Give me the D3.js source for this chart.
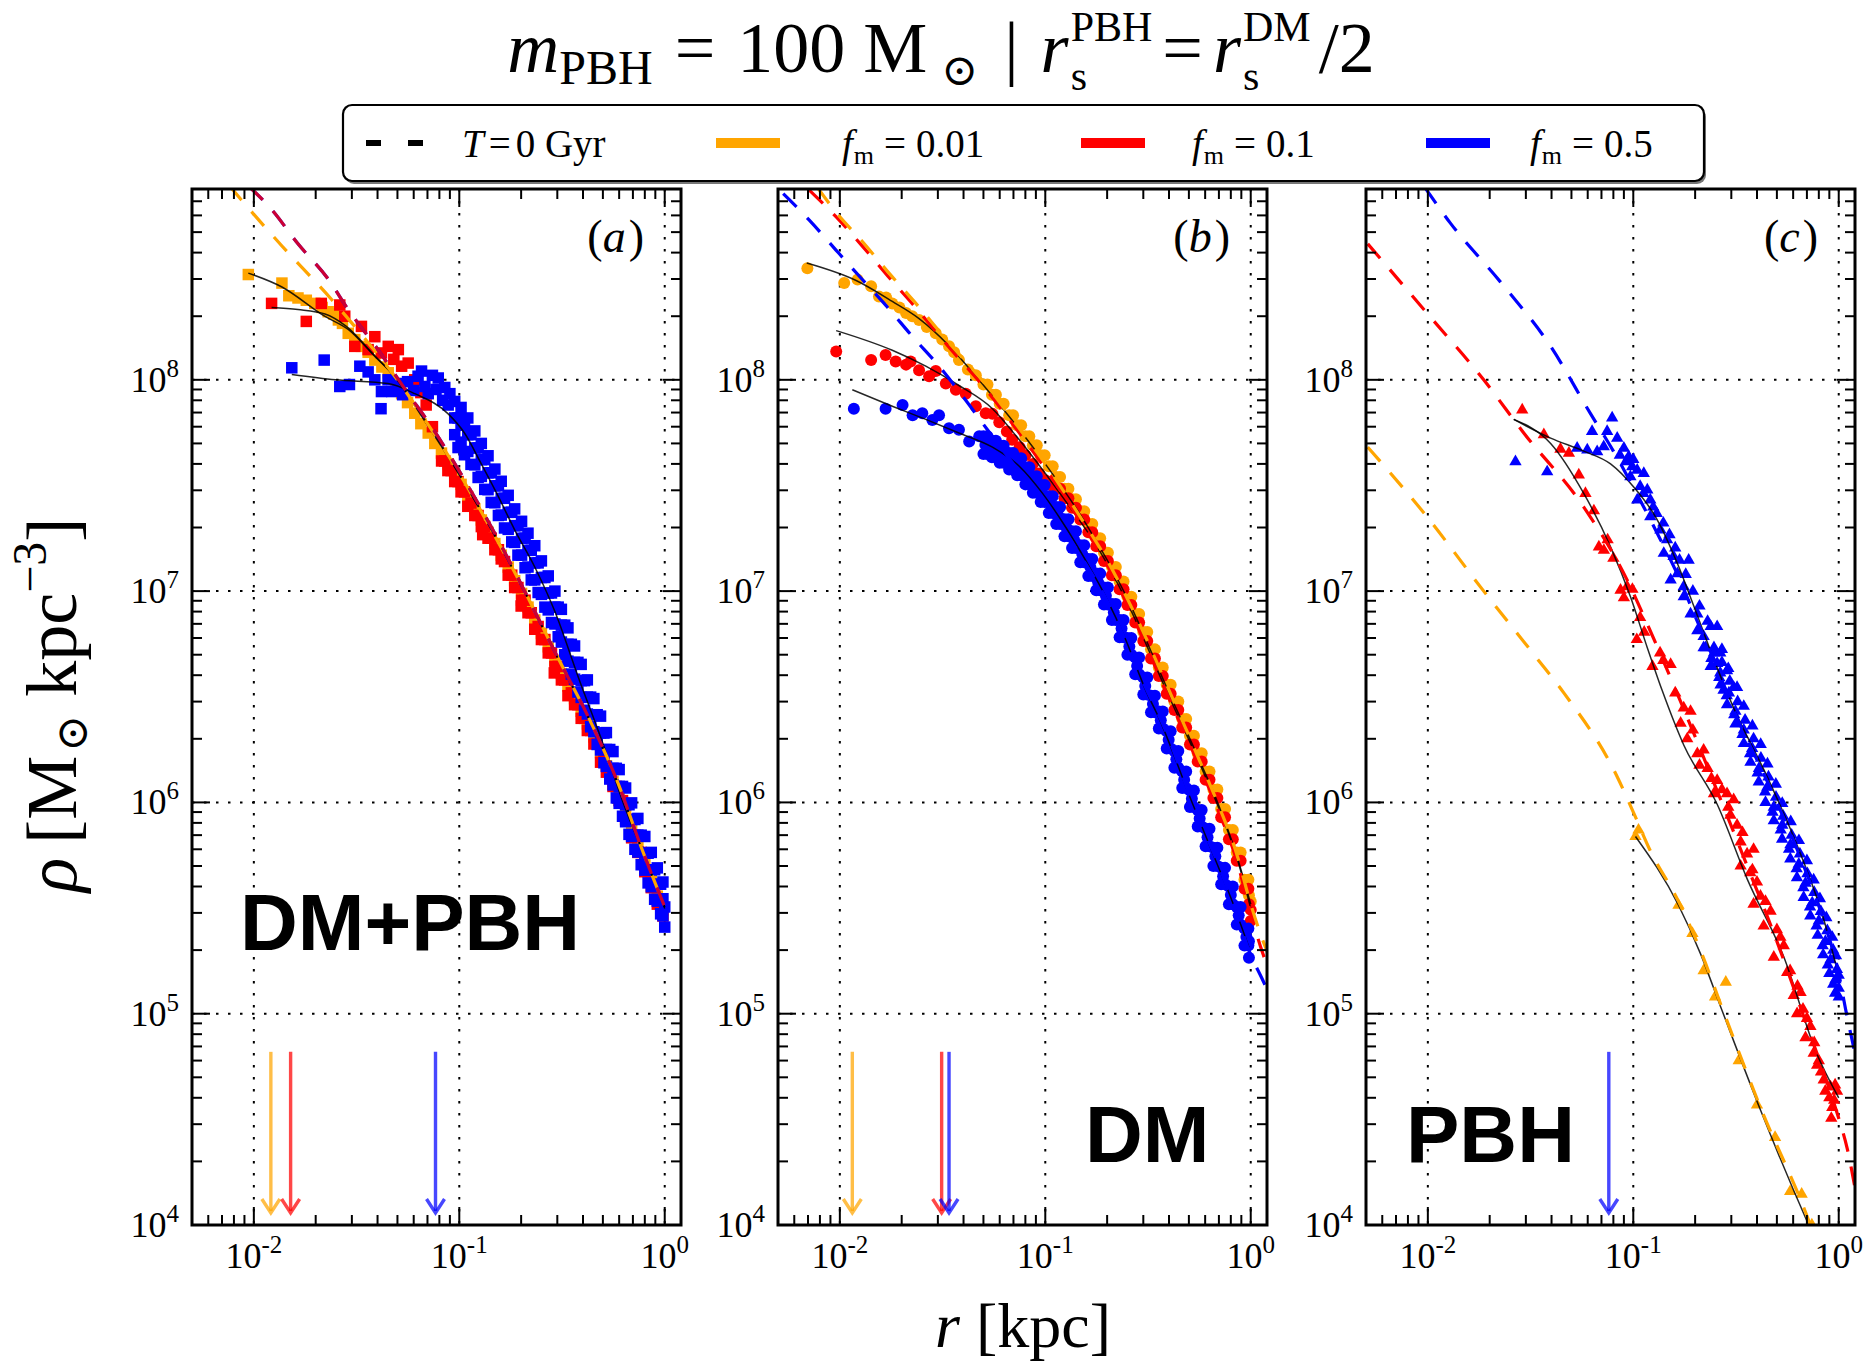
<!DOCTYPE html>
<html>
<head>
<meta charset="utf-8">
<script src="https://cdn.jsdelivr.net/npm/d3@7"></script>
<style>
  html, body { margin: 0; padding: 0; background: #fff; }
  svg { display: block; }
</style>
</head>
<body>
<svg id="fig" width="1872" height="1367"></svg>
<script>
// ---------------- axis ticks ----------------
const xTickValues = [0.01, 0.1, 1];
const xTickExponents = ["-2", "-1", "0"];
const yTickValues = [1e4, 1e5, 1e6, 1e7, 1e8];
const yTickExponents = ["4", "5", "6", "7", "8"];

// legend: mass fractions of the three runs
const fmLabels = ["0.01", "0.1", "0.5"];
const panelTags = ["a", "b", "c"];
const panelNames = ["DM+PBH", "DM", "PBH"];

// arrow extent (density) and arrow radii [kpc] per panel: orange, red, blue
const arrowRhoTop = 6.6e4;
const arrowRhoTip = 1.14e4;
const aArrowRadii = [0.0121, 0.0151, 0.0766];
const bArrowRadii = [0.0115, 0.0313, 0.034];
const cArrowRadii = [null, null, 0.076];

// ---------------- panel (a): DM+PBH, squares ----------------
const aSquaresOrange = [[0.0094,3.15e8],[0.0137,2.87e8],[0.0148,2.5e8],[0.0164,2.44e8],[0.018,2.38e8],[0.0198,2.3e8],[0.0215,2.2e8],[0.023,2.1e8],[0.0245,2.05e8],[0.0258,1.92e8],[0.027,1.85e8],[0.0288,1.66e8],[0.031,1.55e8],[0.0334,1.44e8],[0.036,1.35e8],[0.0388,1.24e8],[0.042,1.15e8],[0.0451,1.08e8],[0.049,9.6e7],[0.0524,8.6e7],[0.056,7.8e7],[0.0607,6.95e7],[0.065,6.2e7],[0.0706,5.6e7],[0.076,5.0e7],[0.0819,4.5e7],[0.088,4.0e7],[0.095,3.6e7],[0.102,3.2e7],[0.11,2.8e7],[0.119,2.45e7],[0.128,2.17e7],[0.138,1.9e7],[0.149,1.68e7],[0.16,1.48e7],[0.173,1.3e7],[0.186,1.12e7],[0.201,9.75e6],[0.216,8.4e6],[0.233,7.3e6],[0.251,6.3e6],[0.271,5.45e6],[0.292,4.7e6],[0.314,4.07e6],[0.338,3.55e6],[0.364,3.1e6],[0.392,2.7e6],[0.42,2.35e6],[0.452,2.04e6],[0.487,1.72e6],[0.52,1.49e6],[0.56,1.26e6],[0.6,1.09e6],[0.645,8.9e5],[0.69,7.4e5],[0.74,6.2e5],[0.8,5.1e5],[0.86,4.3e5],[0.92,3.6e5],[0.98,3.1e5]];
const aSquaresRed = [[0.0122,2.3e8],[0.018,1.89e8],[0.0213,2.3e8],[0.0262,2.26e8],[0.0277,2.0e8],[0.031,1.44e8],[0.0334,1.79e8],[0.036,1.39e8],[0.0388,1.6e8],[0.0418,1.34e8],[0.0451,1.44e8],[0.048,1.25e8],[0.0505,1.39e8],[0.0524,1.16e8],[0.0564,1.2e8],[0.0607,1.0e8],[0.065,8.7e7],[0.069,7.6e7],[0.074,6.0e7],
  [0.082,4.13e7],[0.088,3.72e7],[0.095,3.3e7],[0.102,2.95e7],[0.11,2.52e7],[0.119,2.28e7],[0.128,2.02e7],[0.13,1.85e7],[0.138,1.78e7],[0.149,1.57e7],[0.16,1.42e7],[0.173,1.19e7],[0.186,1.04e7],[0.2,8.5e6],[0.201,9.06e6],[0.216,7.9e6],[0.233,6.6e6],[0.251,5.9e6],[0.271,5.1e6],[0.29,4.1e6],[0.292,4.4e6],[0.314,3.8e6],[0.338,3.2e6],[0.364,2.9e6],[0.392,2.5e6],[0.42,2.19e6],[0.452,1.89e6],[0.487,1.55e6],[0.52,1.39e6],[0.56,1.19e6],[0.6,1.02e6],[0.645,8.3e5],[0.69,6.8e5],[0.74,5.8e5],[0.8,4.7e5],[0.86,3.95e5],[0.92,3.3e5],[0.98,2.9e5],
  [0.085,4.13e7],[0.0913,3.72e7],[0.0986,3.3e7],[0.106,2.95e7],[0.114,2.61e7],[0.1235,2.28e7],[0.133,2.02e7],[0.143,1.78e7],[0.155,1.57e7],[0.166,1.38e7],[0.18,1.19e7],[0.193,1.04e7],[0.209,9.06e6],[0.224,7.9e6],[0.242,6.8e6],[0.261,5.9e6],[0.281,5.1e6],[0.303,4.4e6],[0.326,3.8e6],[0.351,3.3e6],[0.378,2.9e6],[0.407,2.5e6],[0.436,2.19e6],[0.469,1.89e6],[0.506,1.6e6],[0.54,1.39e6],[0.581,1.19e6],[0.623,1.02e6],[0.67,8.3e5],[0.716,7.0e5],[0.768,5.8e5],[0.83,4.7e5],[0.893,3.95e5],[0.955,3.3e5]];
const aSquaresBlue = [[0.0153,1.14e8],[0.022,1.24e8],[0.0262,9.3e7],[0.0292,9.5e7],[0.0328,1.16e8],[0.036,1.09e8],[0.0388,1.0e8],[0.0418,8.8e7],[0.0416,7.3e7],[0.045,1.0e8],[0.047,8.8e7],[0.05,9.6e7],[0.053,8.5e7],[0.056,9.8e7],[0.06,8.9e7],[0.063,1.04e8],[0.0655,1.1e8],[0.068,9.3e7],[0.0706,8.6e7],[0.074,1.05e8],[0.077,9.0e7],[0.079,1.02e8],[0.083,8.0e7],[0.085,9.2e7],[0.0883,7.6e7],[0.09,8.6e7],
  [0.095,6.6e7],[0.102,6.1e7],[0.11,5.5e7],[0.119,4.76e7],[0.128,4.19e7],[0.138,3.63e7],[0.149,3.15e7],[0.16,2.75e7],[0.173,2.36e7],[0.186,2.04e7],[0.201,1.78e7],[0.216,1.56e7],[0.233,1.36e7],[0.251,1.16e7],[0.271,9.8e6],[0.292,8.4e6],[0.314,6.9e6],[0.338,5.6e6],[0.364,4.6e6],[0.392,3.77e6],[0.42,3.15e6],[0.452,2.6e6],[0.487,2.13e6],[0.52,1.78e6],[0.56,1.45e6],[0.6,1.19e6],[0.645,9.75e5],[0.69,8.3e5],[0.74,7.0e5],[0.8,5.75e5],[0.86,4.8e5],[0.92,4.1e5],[0.98,3.5e5],
  [0.095,7.9e7],[0.102,7.4e7],[0.11,6.6e7],[0.119,5.73e7],[0.128,5.0e7],[0.138,4.37e7],[0.149,3.78e7],[0.16,3.31e7],[0.173,2.84e7],[0.186,2.45e7],[0.201,2.14e7],[0.216,1.88e7],[0.233,1.64e7],[0.251,1.39e7],[0.271,1.18e7],[0.292,1.0e7],[0.314,8.2e6],[0.338,6.7e6],[0.364,5.5e6],[0.392,4.5e6],[0.42,3.8e6],[0.452,3.1e6],[0.487,2.56e6],[0.52,2.14e6],[0.56,1.74e6],[0.6,1.43e6],[0.645,1.17e6],[0.69,9.95e5],[0.74,8.4e5],[0.8,6.9e5],[0.86,5.8e5],[0.92,4.9e5],[0.98,4.2e5],
  [0.0986,6.6e7],[0.106,6.1e7],[0.114,5.5e7],[0.1235,4.76e7],[0.133,4.19e7],[0.143,3.63e7],[0.155,3.15e7],[0.166,2.75e7],[0.18,2.36e7],[0.193,2.04e7],[0.209,1.78e7],[0.224,1.56e7],[0.242,1.36e7],[0.261,1.16e7],[0.281,9.8e6],[0.303,8.4e6],[0.326,6.9e6],[0.351,5.6e6],[0.378,4.6e6],[0.407,3.77e6],[0.436,3.15e6],[0.469,2.6e6],[0.506,2.13e6],[0.54,1.78e6],[0.581,1.45e6],[0.623,1.19e6],[0.67,9.75e5],[0.716,8.3e5],[0.768,7.0e5],[0.83,5.75e5],[0.893,4.8e5],[0.955,4.1e5],
  [0.095,5.5e7],[0.102,5.07e7],[0.11,4.58e7],[0.119,3.96e7],[0.128,3.49e7],[0.138,3.02e7],[0.149,2.62e7],[0.16,2.29e7],[0.173,1.96e7],[0.186,1.7e7],[0.201,1.48e7],[0.216,1.3e7],[0.233,1.13e7],[0.251,9.65e6],[0.271,8.15e6],[0.292,6.99e6],[0.314,5.74e6],[0.338,4.66e6],[0.364,3.83e6],[0.392,3.14e6],[0.42,2.62e6],[0.452,2.16e6],[0.487,1.77e6],[0.52,1.48e6],[0.56,1.21e6],[0.6,9.9e5],[0.645,8.1e5],[0.69,6.9e5],[0.74,5.82e5],[0.8,4.78e5],[0.86,3.99e5],[0.92,3.41e5],[0.98,2.91e5],
  [0.0986,4.78e7],[0.106,4.42e7],[0.114,3.98e7],[0.1235,3.45e7],[0.133,3.03e7],[0.143,2.63e7],[0.155,2.28e7],[0.166,1.99e7],[0.18,1.71e7],[0.193,1.48e7],[0.209,1.29e7],[0.224,1.13e7],[0.242,9.85e6],[0.261,8.4e6],[0.281,7.1e6],[0.303,6.08e6],[0.326,5.0e6],[0.351,4.05e6],[0.378,3.33e6],[0.407,2.73e6],[0.436,2.28e6],[0.469,1.88e6],[0.506,1.54e6],[0.54,1.29e6],[0.581,1.05e6],[0.623,8.6e5],[0.67,7.06e5],[0.716,6.0e5],[0.768,5.07e5],[0.83,4.16e5],[0.893,3.48e5],[0.955,2.97e5],
  [1.0,3.2e5],[1.0,2.57e5]];
const aFitOrange = [[0.0094,3.2e8],[0.0137,2.75e8],[0.0221,2.0e8],[0.0288,1.73e8],[0.0388,1.29e8],[0.0485,1.04e8],[0.07,6.2e7],[0.1,3.6e7],[0.15,1.82e7],[0.208,1.0e7],[0.3,4.9e6],[0.44,2.36e6],[0.593,1.23e6],[0.77,6.1e5],[1.0,3.2e5]];
const aFitRed = [[0.0122,2.2e8],[0.0164,2.15e8],[0.0222,2.05e8],[0.028,1.8e8],[0.0388,1.3e8],[0.0485,1.03e8],[0.07,6.1e7],[0.1,3.55e7],[0.15,1.8e7],[0.208,9.9e6],[0.3,4.85e6],[0.44,2.33e6],[0.593,1.22e6],[0.77,6.05e5],[1.0,3.15e5]];
const aFitBlue = [[0.0153,1.06e8],[0.025,1.0e8],[0.045,9.6e7],[0.0607,8.6e7],[0.0883,6.9e7],[0.106,5.6e7],[0.128,4.0e7],[0.155,2.8e7],[0.186,1.95e7],[0.233,1.3e7],[0.292,8.0e6],[0.38,3.9e6],[0.5,1.9e6],[0.627,1.0e6],[0.8,5.5e5],[1.0,3.2e5]];
const aT0Orange = [[0.0076,8.3e8],[0.0087,7.1e8],[0.0137,4.3e8],[0.0239,2.4e8],[0.035,1.55e8],[0.0485,1.04e8],[0.07,6.2e7],[0.1,3.6e7],[0.15,1.8e7],[0.208,1.0e7],[0.3,4.9e6],[0.44,2.36e6],[0.593,1.23e6],[0.77,6.1e5],[1.0,3.2e5]];
const aT0Total = [[0.0095,8.2e8],[0.0122,6.4e8],[0.0164,4.4e8],[0.023,3.0e8],[0.0288,2.15e8],[0.04,1.4e8],[0.055,8.9e7],[0.075,5.8e7],[0.1,3.7e7],[0.15,1.85e7],[0.208,1.0e7],[0.3,4.9e6],[0.44,2.36e6],[0.593,1.23e6],[0.77,6.1e5],[1.0,3.2e5]];

// ---------------- panel (b): DM, circles ----------------
const bCirclesOrange = [[0.00695,3.37e8],[0.0105,2.87e8],[0.0122,2.98e8],[0.0142,2.77e8],[0.0155,2.48e8],[0.0168,2.45e8],[0.018,2.3e8],[0.0195,2.2e8],[0.021,2.07e8],[0.0225,2.0e8],[0.0243,1.92e8],[0.0265,1.78e8],[0.0293,1.66e8],[0.0315,1.55e8],[0.034,1.44e8],[0.036,1.35e8],[0.038,1.24e8],[0.042,1.12e8],[0.0459,1.05e8],[0.05,9.5e7],[0.055,8.5e7],[0.06,7.7e7],[0.0667,6.8e7],[0.073,6.1e7],[0.08,5.4e7],[0.087,4.9e7],[0.095,4.4e7],[0.104,3.9e7],[0.113,3.47e7],[0.124,3.05e7],[0.135,2.72e7],[0.148,2.39e7],[0.162,2.08e7],[0.177,1.78e7],[0.193,1.52e7],[0.211,1.3e7],[0.23,1.11e7],[0.251,9.4e6],[0.274,7.8e6],[0.3,6.4e6],[0.327,5.3e6],[0.357,4.35e6],[0.39,3.6e6],[0.425,3.0e6],[0.464,2.48e6],[0.506,2.07e6],[0.552,1.71e6],[0.603,1.4e6],[0.658,1.15e6],[0.718,9.3e5],[0.783,7.4e5],[0.855,5.8e5],[0.932,4.3e5],[0.98,3.64e5],[1.0,3.4e5],
  [0.0523,9.5e7],[0.0575,8.5e7],[0.0627,7.7e7],[0.0697,6.8e7],[0.0763,6.1e7],[0.0836,5.4e7],[0.0909,4.9e7],[0.0993,4.4e7],[0.1087,3.9e7],[0.118,3.47e7],[0.1296,3.05e7],[0.141,2.72e7],[0.1547,2.39e7],[0.1693,2.08e7],[0.185,1.78e7],[0.2017,1.52e7],[0.2205,1.3e7],[0.2404,1.11e7],[0.2623,9.4e6],[0.2863,7.8e6],[0.3135,6.4e6],[0.3417,5.3e6],[0.373,4.35e6],[0.4076,3.6e6],[0.444,3.0e6],[0.485,2.48e6],[0.529,2.07e6],[0.577,1.71e6],[0.63,1.4e6],[0.688,1.15e6],[0.75,9.3e5],[0.818,7.4e5],[0.893,5.8e5],[0.974,4.3e5]];
const bCirclesRed = [[0.0096,1.36e8],[0.0142,1.24e8],[0.0167,1.31e8],[0.0187,1.22e8],[0.021,1.18e8],[0.0221,1.22e8],[0.0243,1.11e8],[0.0272,1.04e8],[0.0293,1.1e8],[0.0328,9.6e7],[0.0367,8.97e7],[0.041,8.6e7],[0.0459,7.5e7],[0.0513,6.95e7],[0.0553,6.9e7],[0.0597,6.3e7],[0.065,5.7e7],[0.069,5.2e7],[0.075,4.8e7],[0.08,4.4e7],[0.087,4.0e7],[0.0933,3.6e7],[0.1,3.35e7],[0.108,3.15e7],
  [0.113,3.05e7],[0.124,2.75e7],[0.135,2.48e7],[0.148,2.18e7],[0.162,1.9e7],[0.177,1.63e7],[0.193,1.39e7],[0.211,1.19e7],[0.23,1.02e7],[0.251,8.6e6],[0.274,7.1e6],[0.3,5.8e6],[0.327,4.8e6],[0.357,3.97e6],[0.39,3.27e6],[0.425,2.74e6],[0.464,2.26e6],[0.506,1.88e6],[0.552,1.56e6],[0.603,1.28e6],[0.658,1.05e6],[0.718,8.5e5],[0.783,6.7e5],[0.855,5.3e5],[0.932,3.9e5],[0.98,3.3e5],[1.0,3.1e5],[1.0,2.75e5],
  [0.118,3.05e7],[0.1296,2.75e7],[0.141,2.48e7],[0.1547,2.18e7],[0.1693,1.9e7],[0.185,1.63e7],[0.2017,1.39e7],[0.2205,1.19e7],[0.2404,1.02e7],[0.2623,8.6e6],[0.2863,7.1e6],[0.3135,5.8e6],[0.3417,4.8e6],[0.373,3.97e6],[0.4076,3.27e6],[0.444,2.74e6],[0.485,2.26e6],[0.529,1.88e6],[0.577,1.56e6],[0.63,1.28e6],[0.688,1.05e6],[0.75,8.5e5],[0.818,6.7e5],[0.893,5.3e5],[0.974,3.9e5]];
const bCirclesBlue = [[0.0117,7.3e7],[0.0167,7.3e7],[0.0202,7.6e7],[0.0226,6.8e7],[0.0252,6.95e7],[0.0282,6.46e7],[0.0304,6.8e7],[0.034,5.9e7],[0.038,5.8e7],[0.0426,5.1e7],[0.0477,5.4e7],
  [0.05,5.4e7],[0.055,5.15e7],[0.06,4.87e7],[0.0667,4.5e7],[0.073,4.25e7],[0.08,3.86e7],[0.087,3.5e7],[0.095,3.18e7],[0.104,2.81e7],[0.113,2.5e7],[0.124,2.19e7],[0.135,1.92e7],[0.148,1.65e7],[0.162,1.42e7],[0.177,1.21e7],[0.193,1.04e7],[0.211,8.7e6],[0.23,7.3e6],[0.251,6.0e6],[0.274,4.85e6],[0.3,3.9e6],[0.327,3.2e6],[0.357,2.69e6],[0.39,2.17e6],[0.425,1.75e6],[0.464,1.4e6],[0.506,1.14e6],[0.552,9.2e5],[0.603,7.5e5],[0.658,6.1e5],[0.718,4.9e5],[0.783,4.0e5],[0.855,3.2e5],[0.932,2.53e5],[0.98,2.2e5],
  [0.05,4.46e7],[0.055,4.3e7],[0.06,4.05e7],[0.0667,3.76e7],[0.073,3.53e7],[0.08,3.2e7],[0.087,2.92e7],[0.095,2.64e7],[0.104,2.34e7],[0.113,2.08e7],[0.124,1.82e7],[0.135,1.6e7],[0.148,1.37e7],[0.162,1.18e7],[0.177,1.01e7],[0.193,8.65e6],[0.211,7.3e6],[0.23,6.05e6],[0.251,5.0e6],[0.274,4.04e6],[0.3,3.24e6],[0.327,2.67e6],[0.357,2.24e6],[0.39,1.8e6],[0.425,1.46e6],[0.464,1.17e6],[0.506,9.5e5],[0.552,7.7e5],[0.603,6.2e5],[0.658,5.0e5],[0.718,4.1e5],[0.783,3.3e5],[0.855,2.64e5],[0.932,2.1e5],[0.98,1.84e5],
  [0.0523,5.4e7],[0.0575,5.15e7],[0.0627,4.87e7],[0.0697,4.5e7],[0.0763,4.25e7],[0.0836,3.86e7],[0.0909,3.5e7],[0.0993,3.18e7],[0.1087,2.81e7],[0.118,2.5e7],[0.1296,2.19e7],[0.141,1.92e7],[0.1547,1.65e7],[0.1693,1.42e7],[0.185,1.21e7],[0.2017,1.04e7],[0.2205,8.7e6],[0.2404,7.3e6],[0.2623,6.0e6],[0.2863,4.85e6],[0.3135,3.9e6],[0.3417,3.2e6],[0.373,2.69e6],[0.4076,2.17e6],[0.444,1.75e6],[0.485,1.4e6],[0.529,1.14e6],[0.577,9.2e5],[0.63,7.5e5],[0.688,6.1e5],[0.75,4.9e5],[0.818,4.0e5],[0.893,3.2e5],[0.974,2.53e5],
  [0.0523,4.46e7],[0.0575,4.3e7],[0.0627,4.05e7],[0.0697,3.76e7],[0.0763,3.53e7],[0.0836,3.2e7],[0.0909,2.92e7],[0.0993,2.64e7],[0.1087,2.34e7],[0.118,2.08e7],[0.1296,1.82e7],[0.141,1.6e7],[0.1547,1.37e7],[0.1693,1.18e7],[0.185,1.01e7],[0.2017,8.65e6],[0.2205,7.3e6],[0.2404,6.05e6],[0.2623,5.0e6],[0.2863,4.04e6],[0.3135,3.24e6],[0.3417,2.67e6],[0.373,2.24e6],[0.4076,1.8e6],[0.444,1.46e6],[0.485,1.17e6],[0.529,9.5e5],[0.577,7.7e5],[0.63,6.2e5],[0.688,5.0e5],[0.75,4.1e5],[0.818,3.3e5],[0.893,2.64e5],[0.974,2.1e5],
  [0.0511,4.92e7],[0.0562,4.7e7],[0.0613,4.44e7],[0.0682,4.1e7],[0.0746,3.88e7],[0.0818,3.52e7],[0.0889,3.19e7],[0.0971,2.9e7],[0.1063,2.56e7],[0.1155,2.28e7],[0.1267,2.0e7],[0.138,1.75e7],[0.1513,1.5e7],[0.1656,1.3e7],[0.1809,1.1e7],[0.1972,9.5e6],[0.2156,7.93e6],[0.2351,6.66e6],[0.2565,5.47e6],[0.28,4.42e6],[0.3066,3.56e6],[0.3342,2.92e6],[0.3649,2.45e6],[0.3986,1.98e6],[0.4344,1.6e6],[0.4742,1.28e6],[0.5171,1.04e6],[0.5641,8.39e5],[0.6163,6.84e5],[0.6725,5.56e5],[0.7338,4.47e5],[0.8002,3.65e5],[0.8738,2.92e5],[0.9525,2.31e5]];
const bFitOrange = [[0.0069,3.57e8],[0.012,2.95e8],[0.018,2.35e8],[0.0243,1.95e8],[0.034,1.45e8],[0.0459,1.04e8],[0.0667,6.7e7],[0.1,4.0e7],[0.157,2.1e7],[0.246,9.6e6],[0.39,3.5e6],[0.56,1.6e6],[0.69,1.0e6],[0.85,5.7e5],[1.0,3.3e5]];
const bFitRed = [[0.0096,1.71e8],[0.018,1.38e8],[0.0262,1.16e8],[0.038,9.4e7],[0.0553,7.3e7],[0.0747,5.2e7],[0.097,3.75e7],[0.126,2.65e7],[0.177,1.65e7],[0.251,8.8e6],[0.39,3.35e6],[0.56,1.55e6],[0.69,9.7e5],[0.855,5.5e5],[1.0,3.15e5]];
const bFitBlue = [[0.0115,8.97e7],[0.018,7.5e7],[0.0262,6.5e7],[0.038,5.6e7],[0.0553,4.8e7],[0.0747,3.9e7],[0.097,2.9e7],[0.126,2.0e7],[0.157,1.4e7],[0.197,9.4e6],[0.246,5.9e6],[0.308,3.4e6],[0.358,2.5e6],[0.52,9.9e5],[0.676,5.3e5],[0.813,3.4e5],[0.98,2.06e5]];
const bT0Orange = [[0.0078,8.1e8],[0.0096,6.2e8],[0.0129,4.5e8],[0.0171,3.25e8],[0.023,2.35e8],[0.035,1.45e8],[0.05,9.8e7],[0.07,6.4e7],[0.1,4.0e7],[0.15,2.2e7],[0.2,1.4e7],[0.3,6.4e6],[0.4,3.4e6],[0.56,1.6e6],[0.7,9.6e5],[0.85,5.8e5],[1.0,3.3e5],[1.13,2.3e5],[1.25,1.8e5]];
const bT0Red = [[0.0071,7.9e8],[0.0096,5.9e8],[0.0129,4.28e8],[0.0171,3.1e8],[0.023,2.24e8],[0.035,1.38e8],[0.05,9.3e7],[0.07,6.1e7],[0.1,3.8e7],[0.15,2.1e7],[0.2,1.33e7],[0.3,5.9e6],[0.4,3.1e6],[0.56,1.5e6],[0.7,9.0e5],[0.85,5.4e5],[1.0,3.0e5],[1.13,2.0e5],[1.25,1.55e5]];
const bT0Blue = [[0.0053,7.6e8],[0.0071,5.7e8],[0.0096,4.1e8],[0.0128,3.0e8],[0.0171,2.2e8],[0.0226,1.6e8],[0.0304,1.16e8],[0.041,8.0e7],[0.0523,5.8e7],[0.07,4.0e7],[0.1,2.6e7],[0.15,1.45e7],[0.2,9.0e6],[0.3,3.7e6],[0.4,2.0e6],[0.52,9.9e5],[0.7,5.0e5],[0.85,3.0e5],[1.0,1.9e5],[1.13,1.48e5],[1.25,1.2e5]];

// ---------------- panel (c): PBH, triangles ----------------
const cTrianglesOrange = [[0.1025,6.9e5],[0.106,7.4e5],[0.166,3.26e5],[0.194,2.4e5],[0.22,1.6e5],[0.25,1.2e5],[0.282,1.41e5],[0.326,6.0e4],[0.4,3.7e4],[0.49,2.6e4],[0.58,1.44e4],[0.66,1.4e4],[0.74,1.0e4]];
const cTrianglesRed = [[0.0288,7.2e7],[0.0367,5.5e7],[0.0442,4.7e7],[0.0486,4.5e7],[0.0543,3.55e7],[0.0585,2.9e7],[0.0643,2.4e7],[0.068,1.62e7],[0.0719,1.56e7],[0.075,1.75e7],[0.08,1.43e7],[0.0867,1.01e7],[0.09,9.3e6],[0.0933,1.05e7],[0.099,1.02e7],[0.104,5.9e6],[0.108,7.5e6],[0.113,6.4e6],[0.124,4.4e6],[0.135,5.1e6],[0.14,4.7e6],[0.152,4.5e6],[0.16,3.3e6],[0.17,2.37e6],[0.176,2.8e6],[0.183,2.0e6],[0.19,2.7e6],[0.195,2.2e6],[0.205,1.7e6],[0.21,1.5e6],[0.22,1.77e6],[0.23,1.45e6],[0.24,1.3e6],[0.247,1.1e6],[0.256,1.27e6],[0.27,1.15e6],[0.286,1.1e6],[0.29,9.5e5],[0.297,8.7e5],[0.308,1.03e6],[0.32,7.8e5],[0.333,6.5e5],[0.333,5.0e5],[0.34,7.2e5],[0.358,5.7e5],[0.371,4.65e5],[0.38,4.8e5],[0.385,6.0e5],[0.385,3.3e5],[0.4,4.2e5],[0.416,3.6e5],[0.431,2.6e5],[0.44,3.4e5],[0.466,3.06e5],[0.483,1.85e5],[0.5,2.5e5],[0.52,2.3e5],[0.54,2.1e5],[0.561,1.57e5],[0.58,1.6e5],[0.604,1.22e5],[0.627,1.0e5],[0.63,1.35e5],[0.652,1.26e5],[0.67,1.05e5],[0.689,7.7e4],[0.7,9.5e4],[0.728,8.7e4],[0.755,6.5e4],[0.76,7.3e4],[0.785,5.7e4],[0.8,6.0e4],[0.82,5.3e4],[0.845,4.86e4],[0.86,4.3e4],[0.9,4.0e4],[0.912,4.5e4],[0.92,3.2e4],[0.93,3.6e4],[0.95,3.9e4],[0.96,4.6e4],[0.981,4.3e4]];
const cTrianglesBlue = [[0.0267,4.1e7],[0.0381,3.67e7],[0.0533,4.75e7],[0.0597,4.66e7],[0.063,5.7e7],[0.0667,4.57e7],[0.0718,4.83e7],[0.0746,5.7e7],[0.0789,6.6e7],[0.0835,5.3e7],[0.086,4.4e7],[0.09,4.75e7],[0.092,4.1e7],[0.095,4.33e7],[0.0968,3.48e7],[0.0988,3.88e7],[0.1,4.2e7],[0.1045,3.74e7],[0.1045,2.7e7],[0.108,3.13e7],[0.112,2.9e7],[0.1125,3.61e7],[0.117,3.01e7],[0.121,2.7e7],[0.121,2.25e7],[0.125,2.5e7],[0.13,2.33e7],[0.1355,1.95e7],[0.14,2.1e7],[0.1407,1.51e7],[0.146,1.75e7],[0.15,1.85e7],[0.152,1.13e7],[0.157,1.46e7],[0.16,1.6e7],[0.164,1.21e7],[0.168,1.4e7],[0.176,1.05e7],[0.176,9.4e6],[0.18,1.2e7],[0.186,1.4e7],[0.19,7.8e6],[0.195,1.0e7],[0.205,7.8e6],[0.205,6.5e6],[0.21,8.5e6],[0.22,6.1e6],[0.22,5.4e6],[0.23,7.2e6],[0.238,6.8e6],[0.238,4.4e6],[0.247,5.4e6],[0.256,6.8e6],[0.256,4.55e6],[0.265,5.1e6],[0.275,3.4e6],[0.286,4.2e6],[0.308,3.5e6],
  [0.225,5.4e6],[0.247,5.1e6],[0.27,5.3e6],[0.241,4.4e6],[0.265,4.1e6],[0.29,4.3e6],[0.266,3.6e6],[0.292,3.3e6],[0.32,3.5e6],[0.286,2.9e6],[0.314,2.7e6],[0.345,2.85e6],[0.314,2.35e6],[0.345,2.2e6],[0.38,2.3e6],[0.345,1.9e6],[0.379,1.8e6],[0.417,1.88e6],[0.372,1.55e6],[0.409,1.45e6],[0.45,1.52e6],[0.408,1.25e6],[0.449,1.18e6],[0.494,1.22e6],[0.44,1.0e6],[0.483,9.5e5],[0.531,9.9e5],[0.483,8.2e5],[0.531,7.8e5],[0.584,8.1e5],[0.53,6.7e5],[0.582,6.3e5],[0.64,6.6e5],[0.581,5.4e5],[0.639,5.1e5],[0.7,5.3e5],[0.626,4.4e5],[0.689,4.15e5],[0.755,4.3e5],[0.675,3.55e5],[0.743,3.35e5],[0.81,3.5e5],[0.727,2.9e5],[0.8,2.75e5],[0.87,2.85e5],[0.79,2.35e5],[0.861,2.2e5],[0.93,2.3e5],[0.84,1.9e5],[0.912,1.8e5],[0.97,1.88e5],[0.9,1.55e5],[0.964,1.45e5],[1.0,1.52e5],[0.96,1.25e5],[1.0,1.2e5],
  [0.24,4.8e6],[0.27,4.6e6],[0.262,3.9e6],[0.295,3.75e6],[0.285,3.2e6],[0.322,3.0e6],[0.31,2.6e6],[0.35,2.45e6],[0.34,2.1e6],[0.385,2.0e6],[0.37,1.7e6],[0.418,1.62e6],[0.403,1.38e6],[0.455,1.32e6],[0.438,1.12e6],[0.495,1.06e6],[0.476,9.0e5],[0.537,8.6e5],[0.522,7.4e5],[0.59,7.0e5],[0.573,6.0e5],[0.647,5.7e5],[0.624,4.85e5],[0.704,4.6e5],[0.673,3.95e5],[0.76,3.75e5],[0.725,3.2e5],[0.818,3.05e5],[0.78,2.6e5],[0.88,2.47e5],[0.835,2.1e5],[0.94,2.0e5],[0.885,1.7e5],[0.98,1.62e5],[0.94,1.38e5],[1.0,1.32e5]];
const cFitOrange = [[0.1025,6.9e5],[0.166,3.26e5],[0.212,1.93e5],[0.271,1.03e5],[0.416,3.5e4],[0.714,1.0e4],[0.82,7.4e3]];
const cFitRed = [[0.0262,6.5e7],[0.0396,5.0e7],[0.0574,2.9e7],[0.0775,1.62e7],[0.0969,9.4e6],[0.117,5.4e6],[0.138,3.4e6],[0.176,1.87e6],[0.256,9.8e5],[0.36,4.3e5],[0.54,1.86e5],[0.78,6.5e4],[1.0,4.0e4]];
const cFitBlue = [[0.0262,6.5e7],[0.0396,5.3e7],[0.0574,4.6e7],[0.0775,4.0e7],[0.1007,3.1e7],[0.131,2.17e7],[0.164,1.35e7],[0.197,8.5e6],[0.238,5.2e6],[0.308,2.8e6],[0.449,1.32e6],[0.652,5.7e5],[0.845,2.8e5],[0.98,1.63e5]];
const cT0Orange = [[0.0051,4.8e7],[0.0099,2.25e7],[0.0187,1.0e7],[0.034,4.8e6],[0.0459,3.3e6],[0.0836,1.32e6],[0.1,9.0e5],[0.12,6.0e5],[0.166,3.4e5],[0.212,2.0e5],[0.271,1.06e5],[0.416,3.6e4],[0.714,1.05e4],[0.85,6.5e3]];
const cT0Red = [[0.0051,4.4e8],[0.0099,2.07e8],[0.0187,1.0e8],[0.0293,5.6e7],[0.0574,2.5e7],[0.0933,1.13e7],[0.12,6.6e6],[0.157,3.6e6],[0.2,2.05e6],[0.25,1.2e6],[0.35,5.3e5],[0.5,2.2e5],[0.7,8.8e4],[0.9,4.4e4],[1.0,3.2e4],[1.1,2.3e4],[1.2,1.5e4]];
const cT0Blue = [[0.0097,8.1e8],[0.0129,5.5e8],[0.0226,2.9e8],[0.0396,1.44e8],[0.062,6.9e7],[0.08,4.6e7],[0.1,3.1e7],[0.13,1.9e7],[0.164,1.2e7],[0.2,7.6e6],[0.25,4.6e6],[0.31,2.7e6],[0.45,1.25e6],[0.65,5.5e5],[0.85,2.7e5],[1.0,1.55e5],[1.08,1.05e5],[1.2,6.5e4]];

// ---------------- drawing ----------------
const SERIF = "'Liberation Serif', 'Times New Roman', serif";
const SANS = "'Liberation Sans', Arial, sans-serif";
const SYMBOL = "'DejaVu Serif', 'DejaVu Sans', serif";
const COLORS = { orange: "#ffa500", red: "#ff0000", blue: "#0000ff" };
const seriesColors = [COLORS.orange, COLORS.red, COLORS.blue];

const panelLefts = [192, 778, 1366];
const panelW = 489;
const plotTop = 189, plotBottom = 1225;

const svg = d3.select("#fig");
svg.append("rect").attr("width", 1872).attr("height", 1367).attr("fill", "#fff");

const x = d3.scaleLog().domain([0.005, 1.2]).range([0, panelW]);
const y = d3.scaleLog().domain([1e4, 8e8]).range([plotBottom, plotTop]);
const line = d3.line().x(d => x(d[0])).y(d => y(d[1])).curve(d3.curveMonotoneX);

// lays out a run of text pieces (italic, sub/superscripts). A piece with
// `base` + `stack` draws an italic symbol carrying a subscript and a
// superscript above each other, all inside one text element.
function mathText(parent, pieces, x0, y0, anchor, baseSize) {
  const g = parent.append("g");
  let cx = 0;
  for (const p of pieces) {
    cx += (p.pre || 0);
    const t = g.append("text").attr("fill", "#000").attr("font-family", SERIF);
    if (p.stack) {
      const b = t.append("tspan").attr("x", cx).attr("y", 0).attr("font-size", baseSize)
        .attr("font-style", "italic").text(p.base);
      const sx = cx + b.node().getComputedTextLength() + 2;
      let w = 0;
      p.stack.forEach(q => {
        const ts = t.append("tspan").attr("x", sx).attr("y", q.dy).attr("font-size", q.s).text(q.t);
        w = Math.max(w, ts.node().getComputedTextLength());
      });
      cx = sx + w;
    } else {
      t.attr("font-family", p.f || SERIF)
        .attr("font-size", p.s || baseSize)
        .attr("font-style", p.i ? "italic" : "normal")
        .attr("x", cx).attr("y", p.dy || 0)
        .text(p.t);
      cx += t.node().getComputedTextLength();
    }
    cx += (p.post || 0);
  }
  const off = anchor === "middle" ? -cx / 2 : (anchor === "end" ? -cx : 0);
  g.attr("transform", `translate(${x0 + off},${y0})`);
  return g;
}

const isMajor = v => Math.abs(Math.log10(v) - Math.round(Math.log10(v))) < 1e-6;

const panels = [
  { markers: "square", pts: [aSquaresOrange, aSquaresRed, aSquaresBlue], fits: [aFitOrange, aFitRed, aFitBlue], arrows: aArrowRadii, nameXY: [240, 950] },
  { markers: "circle", pts: [bCirclesOrange, bCirclesRed, bCirclesBlue], fits: [bFitOrange, bFitRed, bFitBlue], arrows: bArrowRadii, nameXY: [1085, 1162] },
  { markers: "triangle", pts: [cTrianglesOrange, cTrianglesRed, cTrianglesBlue], fits: [cFitOrange, cFitRed, cFitBlue], arrows: cArrowRadii, nameXY: [1406, 1162] }
];

const defs = svg.append("defs");

panels.forEach((P, pi) => {
  const left = panelLefts[pi];
  const g = svg.append("g").attr("transform", `translate(${left},0)`);
  const clipId = "clip" + pi;
  defs.append("clipPath").attr("id", clipId)
    .append("rect").attr("x", 0).attr("y", plotTop).attr("width", panelW).attr("height", plotBottom - plotTop);

  // grid
  const grid = g.append("g").attr("stroke", "#000").attr("stroke-width", 2).attr("stroke-dasharray", "2.5,9.5");
  grid.selectAll("line.gx").data(xTickValues).join("line").attr("class", "gx")
    .attr("x1", d => x(d)).attr("x2", d => x(d)).attr("y1", plotTop).attr("y2", plotBottom);
  grid.selectAll("line.gy").data(yTickValues.slice(1)).join("line").attr("class", "gy")
    .attr("x1", 0).attr("x2", panelW).attr("y1", d => y(d)).attr("y2", d => y(d));

  const body = g.append("g").attr("clip-path", `url(#${clipId})`);

  // simulation points
  P.pts.forEach((pts, si) => {
    const mg = body.append("g").attr("fill", seriesColors[si]);
    if (P.markers === "square") {
      mg.selectAll("rect").data(pts).join("rect")
        .attr("x", d => x(d[0]) - 5.75).attr("y", d => y(d[1]) - 5.75).attr("width", 11.5).attr("height", 11.5);
    } else if (P.markers === "circle") {
      mg.selectAll("circle").data(pts).join("circle")
        .attr("cx", d => x(d[0])).attr("cy", d => y(d[1])).attr("r", 6);
    } else {
      const tri = d3.symbol().type(d3.symbolTriangle).size(66);
      mg.selectAll("path").data(pts).join("path")
        .attr("d", tri).attr("transform", d => `translate(${x(d[0])},${y(d[1])})`);
    }
  });

  // fitted profiles
  P.fits.forEach(f => {
    body.append("path").datum(f).attr("d", line).attr("fill", "none")
      .attr("stroke", "#000").attr("stroke-width", 1.5).attr("stroke-opacity", 0.85);
  });

  // initial (T = 0) profiles
  const dashed = (data, color, op) => body.append("path").datum(data).attr("d", line)
    .attr("fill", "none").attr("stroke", color).attr("stroke-width", 3.2)
    .attr("stroke-dasharray", "19,15").attr("stroke-opacity", op);
  if (pi === 0) {
    dashed(aT0Orange, COLORS.orange, 1);
    dashed(aT0Total, COLORS.blue, 1);
    dashed(aT0Total, COLORS.red, 0.8);
  } else if (pi === 1) {
    dashed(bT0Blue, COLORS.blue, 1);
    dashed(bT0Red, COLORS.red, 1);
    dashed(bT0Orange, COLORS.orange, 1);
  } else {
    dashed(cT0Orange, COLORS.orange, 1);
    dashed(cT0Red, COLORS.red, 1);
    dashed(cT0Blue, COLORS.blue, 1);
  }

  // arrows
  P.arrows.forEach((r, si) => {
    if (r === null) return;
    const ax = x(r), y0 = y(arrowRhoTop), y1 = y(arrowRhoTip);
    const a = body.append("g").attr("stroke", seriesColors[si]).attr("stroke-width", 3.4)
      .attr("fill", "none").attr("stroke-opacity", 0.72).attr("stroke-linejoin", "miter");
    a.append("line").attr("x1", ax).attr("x2", ax).attr("y1", y0).attr("y2", y1 - 2);
    a.append("path").attr("d", `M${ax - 9},${y1 - 14}L${ax},${y1}L${ax + 9},${y1 - 14}`);
  });

  // frame and ticks (inward on all four sides)
  g.append("rect").attr("x", 0).attr("y", plotTop).attr("width", panelW).attr("height", plotBottom - plotTop)
    .attr("fill", "none").attr("stroke", "#000").attr("stroke-width", 3);
  const tk = g.append("g").attr("stroke", "#000").attr("stroke-width", 2);
  const xt = x.ticks().filter(v => v >= 0.005 && v <= 1.2);
  xt.forEach(v => {
    const L = isMajor(v) ? 18 : 10, px = x(v);
    tk.append("line").attr("x1", px).attr("x2", px).attr("y1", plotBottom).attr("y2", plotBottom - L);
    tk.append("line").attr("x1", px).attr("x2", px).attr("y1", plotTop).attr("y2", plotTop + L);
  });
  const yt = y.ticks().filter(v => v >= 1e4 && v <= 8e8);
  yt.forEach(v => {
    const L = isMajor(v) ? 18 : 10, py = y(v);
    tk.append("line").attr("x1", 0).attr("x2", L).attr("y1", py).attr("y2", py);
    tk.append("line").attr("x1", panelW).attr("x2", panelW - L).attr("y1", py).attr("y2", py);
  });

  // tick labels
  xTickValues.forEach((v, i) => {
    mathText(svg, [{ t: "10" }, { t: xTickExponents[i], s: 25, dy: -15 }], left + x(v), 1268, "middle", 36);
  });
  yTickValues.forEach((v, i) => {
    mathText(svg, [{ t: "10" }, { t: yTickExponents[i], s: 25, dy: -15 }], left - 13, y(v) + 12, "end", 36);
  });

  // panel tag and component name
  mathText(svg, [{ t: "(" }, { t: panelTags[pi], i: true, post: 3 }, { t: ")" }], left + panelW - 37, 252, "end", 46);
  svg.append("text").attr("x", P.nameXY[0]).attr("y", P.nameXY[1])
    .attr("font-family", SANS).attr("font-weight", "bold").attr("font-size", 80)
    .attr("fill", "#000").text(panelNames[pi]);
});

// axis labels
mathText(svg, [{ t: "r", i: true, post: 16 }, { t: "[kpc]" }], 1023, 1347, "middle", 64);
const yl = svg.append("g").attr("transform", "translate(76,705) rotate(-90)");
mathText(yl, [{ t: "ρ", i: true, post: 14 }, { t: "[M" }, { t: "⊙", s: 44, dy: 11, pre: 4, post: 18, f: SYMBOL },
  { t: "kpc" }, { t: "−3", s: 48, dy: -30 }, { t: "]" }], 0, 0, "middle", 72);

// title
mathText(svg, [
  { t: "m", i: true }, { t: "PBH", s: 48, dy: 12, post: 22 }, { t: "=", post: 22 },
  { t: "100 M" }, { t: "⊙", s: 44, dy: 13, pre: 14, post: 26, f: SYMBOL }, { t: "|", post: 22 },
  { base: "r", stack: [{ t: "s", s: 42, dy: 18 }, { t: "PBH", s: 42, dy: -31 }], post: 10 },
  { t: "=", post: 10 },
  { base: "r", stack: [{ t: "s", s: 42, dy: 18 }, { t: "DM", s: 42, dy: -31 }], post: 8 },
  { t: "/2" }
], 941, 72, "middle", 72);

// legend
const lg = svg.append("g");
lg.append("rect").attr("x", 345).attr("y", 108).attr("width", 1361).attr("height", 76).attr("rx", 9)
  .attr("fill", "#777");
lg.append("rect").attr("x", 343).attr("y", 105).attr("width", 1361).attr("height", 76).attr("rx", 9)
  .attr("fill", "#fff").attr("stroke", "#000").attr("stroke-width", 2.2);
lg.append("line").attr("x1", 366).attr("x2", 424).attr("y1", 143).attr("y2", 143)
  .attr("stroke", "#000").attr("stroke-width", 6).attr("stroke-dasharray", "15,27");
mathText(lg, [{ t: "T", i: true, post: 5 }, { t: "=", post: 5 }, { t: "0 Gyr" }], 462, 157, "start", 39);
const legendLineX = [716, 1081, 1426];
const legendTextX = [842, 1192, 1530];
fmLabels.forEach((lab, i) => {
  lg.append("line").attr("x1", legendLineX[i]).attr("x2", legendLineX[i] + 64).attr("y1", 143).attr("y2", 143)
    .attr("stroke", seriesColors[i]).attr("stroke-width", 10);
  mathText(lg, [{ t: "f", i: true, post: 1 }, { t: "m", s: 26, dy: 7, post: 10 }, { t: "=", post: 10 }, { t: lab }],
    legendTextX[i], 157, "start", 39);
});
</script>
</body>
</html>
